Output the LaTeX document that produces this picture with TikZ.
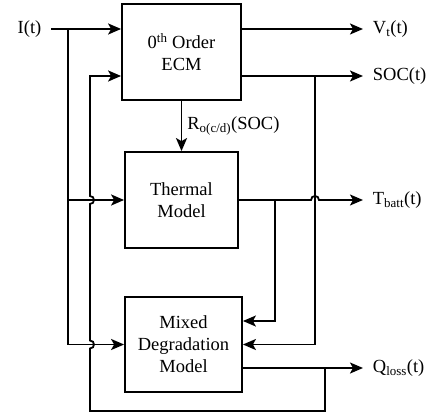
\documentclass[tikz,border=0pt]{standalone}
\usepackage{fontspec}
\setmainfont{Liberation Serif}
\usetikzlibrary{arrows.meta, positioning, calc}

\begin{document}
\begin{tikzpicture}[x=1pt, y=-1pt, line width=1.8pt,
    font=\fontsize{18.5}{22}\selectfont,
    blk/.style={draw, line width=1.8pt, align=center, inner sep=0pt},
    arr/.style={-{Stealth[length=13pt, width=11pt, inset=3pt]}},
    sig/.style={inner xsep=9pt, inner ysep=1pt}]
  \useasboundingbox (0,0) rectangle (433,414);

  % blocks
  \node[blk, minimum width=119pt, minimum height=96pt] (ecm) at (181.5,52) {0\textsuperscript{th} Order\\ECM};
  \node[blk, minimum width=113pt, minimum height=96pt] (thermal) at (181.5,200) {Thermal\\Model};
  \node[blk, minimum width=117pt, minimum height=95pt] (mixed) at (183.5,344.5) {Mixed\\Degradation\\Model};

  % signals
  \node[sig] (cur) at (29.5,29) {I(t)};
  \node[sig, anchor=west] (vt) at (363,29) {V\textsubscript{t}(t)};
  \node[sig, anchor=west] (soc) at (363,76) {SOC(t)};
  \node[sig, anchor=west] (tbatt) at (363,200) {T\textsubscript{batt}(t)};
  \node[sig, anchor=west] (qloss) at (363,368) {Q\textsubscript{loss}(t)};

  \coordinate (isplit) at (68,29);
  \coordinate (ssplit) at (315,76);
  \coordinate (tsplit) at (275,200);
  \coordinate (qsplit) at (325,368);
  \coordinate (fb) at (90,411);
  \coordinate (hop1) at (ssplit |- tbatt.west);
  \coordinate (hop2) at (fb |- thermal.west);
  \coordinate (hop3) at (fb |- mixed.west);

  % current input
  \draw[arr] (cur.east) -- (ecm.west |- cur.east);
  \draw[arr] (isplit) |- (thermal.west);
  \draw[arr] (isplit) |- (mixed.west);

  % outputs
  \draw[arr] (ecm.east |- vt.west) -- (vt.west);
  \draw[arr] (ecm.east |- soc.west) -- (soc.west);
  \draw[arr] (ssplit) |- (mixed.east);
  \draw[arr] (ecm.south) -- (thermal.north) node[midway, right, inner sep=5pt] {R\textsubscript{o(c/d)}(SOC)};
  \draw[arr] (thermal.east) -- ($(hop1)+(-4,0)$) .. controls ($(hop1)+(-4,-5.3)$) and ($(hop1)+(4,-5.3)$) .. ($(hop1)+(4,0)$) -- (tbatt.west);
  \draw[arr] (tsplit) |- ($(mixed.east)+(0,-23.5)$);
  \draw[arr] (mixed.east |- qloss.west) -- (qloss.west);

  % capacity feedback
  \draw[arr] (qsplit) |- (fb) -- ($(hop3)+(0,4)$) .. controls ($(hop3)+(5.3,4)$) and ($(hop3)+(5.3,-4)$) .. ($(hop3)+(0,-4)$)
    -- ($(hop2)+(0,4)$) .. controls ($(hop2)+(5.3,4)$) and ($(hop2)+(5.3,-4)$) .. ($(hop2)+(0,-4)$)
    |- (ecm.west |- soc.west);
\end{tikzpicture}
\end{document}
